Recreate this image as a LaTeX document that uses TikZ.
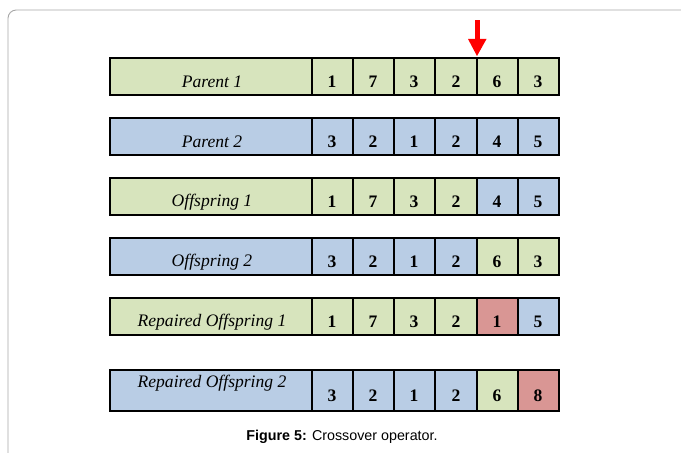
\documentclass[tikz,border=0pt]{standalone}
\usepackage{fontspec}
\setmainfont{Liberation Serif}
\newfontfamily\capfont{Liberation Sans}
\definecolor{genegreen}{HTML}{D7E4BD}
\definecolor{geneblue}{HTML}{B9CDE5}
\definecolor{genered}{HTML}{D99694}
\definecolor{framegray}{HTML}{A8A8A8}
\tikzset{
	green cell/.style={fill=genegreen, draw=black, line width=2.2pt},
	blue cell/.style={fill=geneblue, draw=black, line width=2.2pt},
	red cell/.style={fill=genered, draw=black, line width=2.2pt},
	label text/.style={font=\fontsize{15}{17}\selectfont\itshape},
	gene text/.style={font=\fontsize{15}{17}\selectfont\bfseries}
}
\begin{document}
\begin{tikzpicture}[x=0.03cm, y=-0.03cm]

	\clip(0, 0) rectangle (681, 452);
	\fill[white](0, 0) rectangle (681, 452);
	\draw[framegray, line width=0.8pt, rounded corners=7](8, 470) -- (8, 10) -- (700, 10);

	% Parent 1
	\draw[green cell](110, 58) rectangle (312, 95);
		\draw[green cell](312, 58) rectangle (353, 95);
		\draw[green cell](353, 58) rectangle (394, 95);
		\draw[green cell](394, 58) rectangle (435, 95);
		\draw[green cell](435, 58) rectangle (477, 95);
		\draw[green cell](477, 58) rectangle (518, 95);
		\draw[green cell](518, 58) rectangle (559, 95);

	% Parent 2
	\draw[blue cell](110, 118) rectangle (312, 155);
		\draw[blue cell](312, 118) rectangle (353, 155);
		\draw[blue cell](353, 118) rectangle (394, 155);
		\draw[blue cell](394, 118) rectangle (435, 155);
		\draw[blue cell](435, 118) rectangle (477, 155);
		\draw[blue cell](477, 118) rectangle (518, 155);
		\draw[blue cell](518, 118) rectangle (559, 155);

	% Offspring 1
	\draw[green cell](110, 178) rectangle (312, 215);
		\draw[green cell](312, 178) rectangle (353, 215);
		\draw[green cell](353, 178) rectangle (394, 215);
		\draw[green cell](394, 178) rectangle (435, 215);
		\draw[green cell](435, 178) rectangle (477, 215);
		\draw[blue cell](477, 178) rectangle (518, 215);
		\draw[blue cell](518, 178) rectangle (559, 215);

	% Offspring 2
	\draw[blue cell](110, 238) rectangle (312, 275);
		\draw[blue cell](312, 238) rectangle (353, 275);
		\draw[blue cell](353, 238) rectangle (394, 275);
		\draw[blue cell](394, 238) rectangle (435, 275);
		\draw[blue cell](435, 238) rectangle (477, 275);
		\draw[green cell](477, 238) rectangle (518, 275);
		\draw[green cell](518, 238) rectangle (559, 275);

	% Repaired Offspring 1
	\draw[green cell](110, 298) rectangle (312, 335);
		\draw[green cell](312, 298) rectangle (353, 335);
		\draw[green cell](353, 298) rectangle (394, 335);
		\draw[green cell](394, 298) rectangle (435, 335);
		\draw[green cell](435, 298) rectangle (477, 335);
		\draw[red cell](477, 298) rectangle (518, 335);
		\draw[blue cell](518, 298) rectangle (559, 335);

	% Repaired Offspring 2
	\draw[blue cell](110, 370) rectangle (312, 411);
		\draw[blue cell](312, 370) rectangle (353, 411);
		\draw[blue cell](353, 370) rectangle (394, 411);
		\draw[blue cell](394, 370) rectangle (435, 411);
		\draw[blue cell](435, 370) rectangle (477, 411);
		\draw[green cell](477, 370) rectangle (518, 411);
		\draw[red cell](518, 370) rectangle (559, 411);


	\node[label text](p1) at(212, 82){Parent 1};
	\node[label text](p2) at(212, 142){Parent 2};
	\node[label text](o1) at(212, 202){Offspring 1};
	\node[label text](o2) at(212, 262){Offspring 2};
	\node[label text](r1) at(212, 322){Repaired Offspring 1};
	\node[label text](r2) at(212, 383){Repaired Offspring 2};

	\node[gene text](p1a) at(332, 82){1};
	\node[gene text](p1b) at(373, 82){7};
	\node[gene text](p1c) at(414, 82){3};
	\node[gene text](p1d) at(456, 82){2};
	\node[gene text](p1e) at(497, 82){6};
	\node[gene text](p1f) at(538, 82){3};

	\node[gene text](p2a) at(332, 142){3};
	\node[gene text](p2b) at(373, 142){2};
	\node[gene text](p2c) at(414, 142){1};
	\node[gene text](p2d) at(456, 142){2};
	\node[gene text](p2e) at(497, 142){4};
	\node[gene text](p2f) at(538, 142){5};

	\node[gene text](o1a) at(332, 202){1};
	\node[gene text](o1b) at(373, 202){7};
	\node[gene text](o1c) at(414, 202){3};
	\node[gene text](o1d) at(456, 202){2};
	\node[gene text](o1e) at(497, 202){4};
	\node[gene text](o1f) at(538, 202){5};

	\node[gene text](o2a) at(332, 262){3};
	\node[gene text](o2b) at(373, 262){2};
	\node[gene text](o2c) at(414, 262){1};
	\node[gene text](o2d) at(456, 262){2};
	\node[gene text](o2e) at(497, 262){6};
	\node[gene text](o2f) at(538, 262){3};

	\node[gene text](r1a) at(332, 322){1};
	\node[gene text](r1b) at(373, 322){7};
	\node[gene text](r1c) at(414, 322){3};
	\node[gene text](r1d) at(456, 322){2};
	\node[gene text](r1e) at(497, 322){1};
	\node[gene text](r1f) at(538, 322){5};

	\node[gene text](r2a) at(332, 396){3};
	\node[gene text](r2b) at(373, 396){2};
	\node[gene text](r2c) at(414, 396){1};
	\node[gene text](r2d) at(456, 396){2};
	\node[gene text](r2e) at(497, 396){6};
	\node[gene text](r2f) at(538, 396){8};

	% cut point
	\fill[red](475, 20) rectangle (479.5, 40);
	\fill[red](468, 39) -- (486.5, 39) -- (477, 56) -- cycle;

	\node[font=\capfont\fontsize{12.2}{14}\selectfont](caption) at(342, 437){\textbf{Figure 5:} Crossover operator.};

\end{tikzpicture}
\end{document}
